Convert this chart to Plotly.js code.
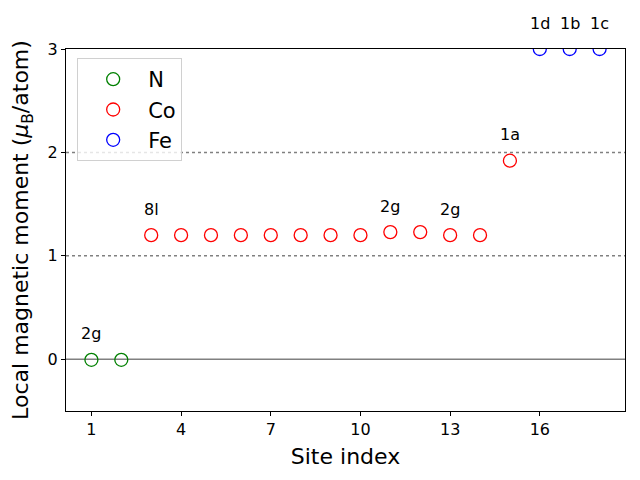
<!DOCTYPE html>
<html><head><meta charset="utf-8">
<script src="https://cdn.plot.ly/plotly-3.0.1.min.js"></script>
<style>html,body{margin:0;padding:0;background:#fff}#chart{width:640px;height:480px}</style>
</head><body><div id="chart"></div>
<script>
const nSites = [1, 2];
const nMoments = [-0.005, -0.005];
const coSites = [3, 4, 5, 6, 7, 8, 9, 10, 11, 12, 13, 14, 15];
const coMoments = [1.2, 1.2, 1.2, 1.2, 1.2, 1.2, 1.2, 1.2, 1.23, 1.23, 1.2, 1.2, 1.92];
const feSites = [16, 17, 18];
const feMoments = [3.0, 3.0, 3.0];
const labelSites = [1, 3, 11, 13, 15, 16, 17, 18];
const labelTexts = ["2g", "8l", "2g", "2g", "1a", "1d", "1b", "1c"];
const xTicks = [1, 4, 7, 10, 13, 16];
const yTicks = [0, 1, 2, 3];

const allSites = nSites.concat(coSites, feSites);
const allMoments = nMoments.concat(coMoments, feMoments);

function mk(name, x, y, color) {
  return {type: 'scatter', mode: 'markers', name: name, x: x, y: y,
    marker: {symbol: 'circle-open', size: 13, color: color, line: {width: 1.3, color: color}},
    cliponaxis: true};
}
const traces = [
  mk('N', nSites, nMoments, 'green'),
  mk('Co', coSites, coMoments, 'red'),
  mk('Fe', feSites, feMoments, 'blue')
];

// labels anchored on their data point, text placed 26px above via an invisible arrow
const annotations = labelSites.map((s, i) => ({
  x: s, y: allMoments[allSites.indexOf(s)],
  xref: 'x', yref: 'y', text: labelTexts[i],
  showarrow: true, arrowcolor: 'rgba(0,0,0,0)', arrowwidth: 0.1, arrowhead: 0,
  ax: 0, ay: -26, standoff: 0,
  font: {size: 16, color: 'black'}, xanchor: 'center', yanchor: 'middle'
}));

const layout = {
  width: 640, height: 480,
  margin: {l: 66, r: 15, t: 49, b: 69, pad: 0},
  paper_bgcolor: 'white', plot_bgcolor: 'white',
  font: {family: 'DejaVu Sans', color: 'black', size: 16},
  showlegend: true,
  legend: {x: 0.02, y: 0.975, xanchor: 'left', yanchor: 'top',
    bgcolor: 'rgba(255,255,255,0.8)', bordercolor: '#d0d0d0', borderwidth: 1,
    font: {size: 21}, itemwidth: 60, tracegroupgap: 0},
  xaxis: {range: [0.15, 18.85], tickvals: xTicks, ticktext: xTicks.map(String),
    showgrid: false, zeroline: false, showline: true, mirror: true, linecolor: 'black', linewidth: 1,
    ticks: 'outside', ticklen: 4, tickcolor: 'black', tickfont: {size: 16},
    title: {text: 'Site index', font: {size: 22}, standoff: 10}},
  yaxis: {range: [-0.5, 3.0], tickvals: yTicks, ticktext: yTicks.map(String),
    showgrid: false, zeroline: false, showline: true, mirror: true, linecolor: 'black', linewidth: 1,
    ticks: 'outside', ticklen: 4, tickcolor: 'black', tickfont: {size: 16},
    title: {text: 'Local magnetic moment (<i>μ</i><sub>B</sub>/atom)', font: {size: 22}, standoff: 12}},
  shapes: [
    {type: 'line', xref: 'paper', yref: 'y', x0: 0, x1: 1, y0: 0, y1: 0, line: {color: 'gray', width: 1.5}, layer: 'below'},
    {type: 'line', xref: 'paper', yref: 'y', x0: 0, x1: 1, y0: 1, y1: 1, line: {color: 'gray', width: 1.5, dash: 'dot'}, layer: 'below'},
    {type: 'line', xref: 'paper', yref: 'y', x0: 0, x1: 1, y0: 2, y1: 2, line: {color: 'gray', width: 1.5, dash: 'dot'}, layer: 'below'},
    // mask that clips markers sitting on the top edge of the axes, as in the reference
    {type: 'rect', xref: 'paper', yref: 'paper', x0: 0.8, x1: 1.02, y0: 1.0025, y1: 1.04,
     fillcolor: 'white', line: {width: 0}, layer: 'above'}
  ],
  annotations: annotations
};
Plotly.newPlot('chart', traces, layout, {displayModeBar: false, staticPlot: true});
</script></body></html>
